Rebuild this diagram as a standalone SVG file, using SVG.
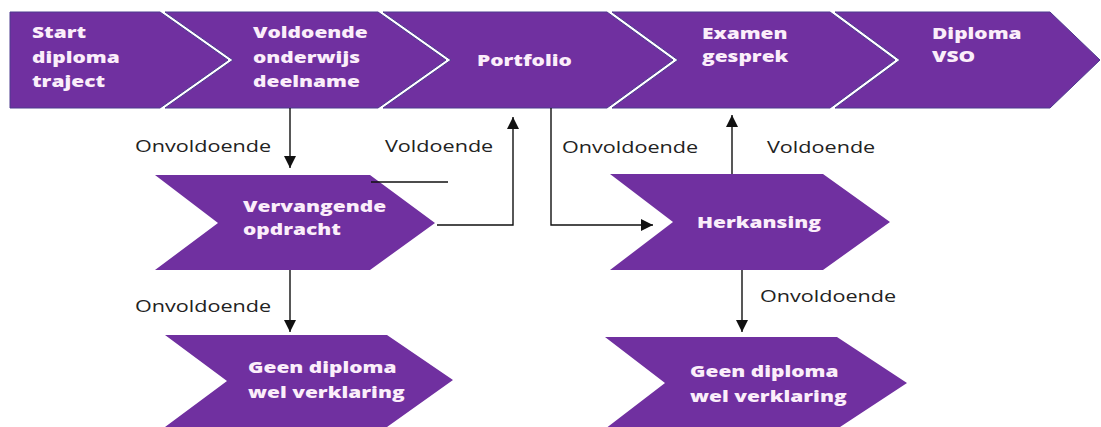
<svg xmlns="http://www.w3.org/2000/svg" width="1101" height="427" viewBox="0 0 1101 427">
<defs>
<style>
.sh{fill:#7030a0;stroke:#4d3a8e;stroke-width:1}
.lo{fill:#7030a0}
.t{font-family:"Open Sans","Liberation Sans",sans-serif;font-weight:800;font-size:15.5px;fill:#fbeefa}
.l{font-family:"Open Sans","Liberation Sans",sans-serif;font-size:16px;fill:#222}
.c{fill:none;stroke:#111;stroke-width:1.4}
</style>
<marker id="ah" markerUnits="userSpaceOnUse" markerWidth="14" markerHeight="14" viewBox="0 0 14 14" refX="12" refY="7" orient="auto">
<path d="M0,1 L12,7 L0,13 Z" fill="#111"/>
</marker>
</defs>
<rect width="1101" height="427" fill="#fff"/>

<g id="n-start">
<polygon class="sh" points="10,12 160,12 228,60 160,108 10,108"/>
<text class="t" transform="translate(32,38) scale(1.35,1)">Start</text>
<text class="t" transform="translate(32,63) scale(1.35,1)">diploma</text>
<text class="t" transform="translate(32,87) scale(1.35,1)">traject</text>
</g>
<g id="n-voldoende">
<polygon class="sh" points="165,12 378,12 446,60 378,108 165,108 233,60"/>
<text class="t" transform="translate(253,38) scale(1.35,1)">Voldoende</text>
<text class="t" transform="translate(253,63) scale(1.35,1)">onderwijs</text>
<text class="t" transform="translate(253,87) scale(1.35,1)">deelname</text>
</g>
<g id="n-portfolio">
<polygon class="sh" points="383,12 607,12 673,60 607,108 383,108 451,60"/>
<text class="t" transform="translate(477,66) scale(1.35,1)">Portfolio</text>
</g>
<g id="n-examen">
<polygon class="sh" points="612,12 830,12 895,60 830,108 612,108 678,60"/>
<text class="t" transform="translate(702,39) scale(1.35,1)">Examen</text>
<text class="t" transform="translate(702,62) scale(1.35,1)">gesprek</text>
</g>
<g id="n-diploma">
<polygon class="sh" points="835,12 1050,12 1100,60 1050,108 835,108 900,60"/>
<text class="t" transform="translate(932,39) scale(1.35,1)">Diploma</text>
<text class="t" transform="translate(932,62) scale(1.35,1)">VSO</text>
</g>

<g id="n-vervangende">
<polygon class="lo" points="155,175 370,175 435,223 370,270 155,270 218,223"/>
<text class="t" transform="translate(243,212) scale(1.35,1)">Vervangende</text>
<text class="t" transform="translate(243,235) scale(1.35,1)">opdracht</text>
</g>
<g id="n-herkansing">
<polygon class="lo" points="610,174 823,174 890,222 823,270 610,270 673,222"/>
<text class="t" transform="translate(697,228) scale(1.35,1)">Herkansing</text>
</g>
<g id="n-geen1">
<polygon class="lo" points="165,335 387,335 453,380 387,427 165,427 227,381"/>
<text class="t" transform="translate(248,373) scale(1.35,1)">Geen diploma</text>
<text class="t" transform="translate(248,398) scale(1.35,1)">wel verklaring</text>
</g>
<g id="n-geen2">
<polygon class="lo" points="605,337 837,337 907,383 837,429 605,429 665,383"/>
<text class="t" transform="translate(690,377) scale(1.35,1)">Geen diploma</text>
<text class="t" transform="translate(690,402) scale(1.35,1)">wel verklaring</text>
</g>

<g id="connectors">
<path class="c" d="M290,108 V168" marker-end="url(#ah)"/>
<path class="c" d="M437,225 H513 V117" marker-end="url(#ah)"/>
<path class="c" d="M371,182 H448"/>
<path class="c" d="M290,270 V332" marker-end="url(#ah)"/>
<path class="c" d="M551,108 V225 H653" marker-end="url(#ah)"/>
<path class="c" d="M732,174 V115" marker-end="url(#ah)"/>
<path class="c" d="M742,270 V332" marker-end="url(#ah)"/>
</g>

<g id="labels">
<text class="l" transform="translate(135,152) scale(1.35,1)">Onvoldoende</text>
<text class="l" transform="translate(385,152) scale(1.35,1)">Voldoende</text>
<text class="l" transform="translate(135,312) scale(1.35,1)">Onvoldoende</text>
<text class="l" transform="translate(562,153) scale(1.35,1)">Onvoldoende</text>
<text class="l" transform="translate(767,153) scale(1.35,1)">Voldoende</text>
<text class="l" transform="translate(760,302) scale(1.35,1)">Onvoldoende</text>
</g>
</svg>
